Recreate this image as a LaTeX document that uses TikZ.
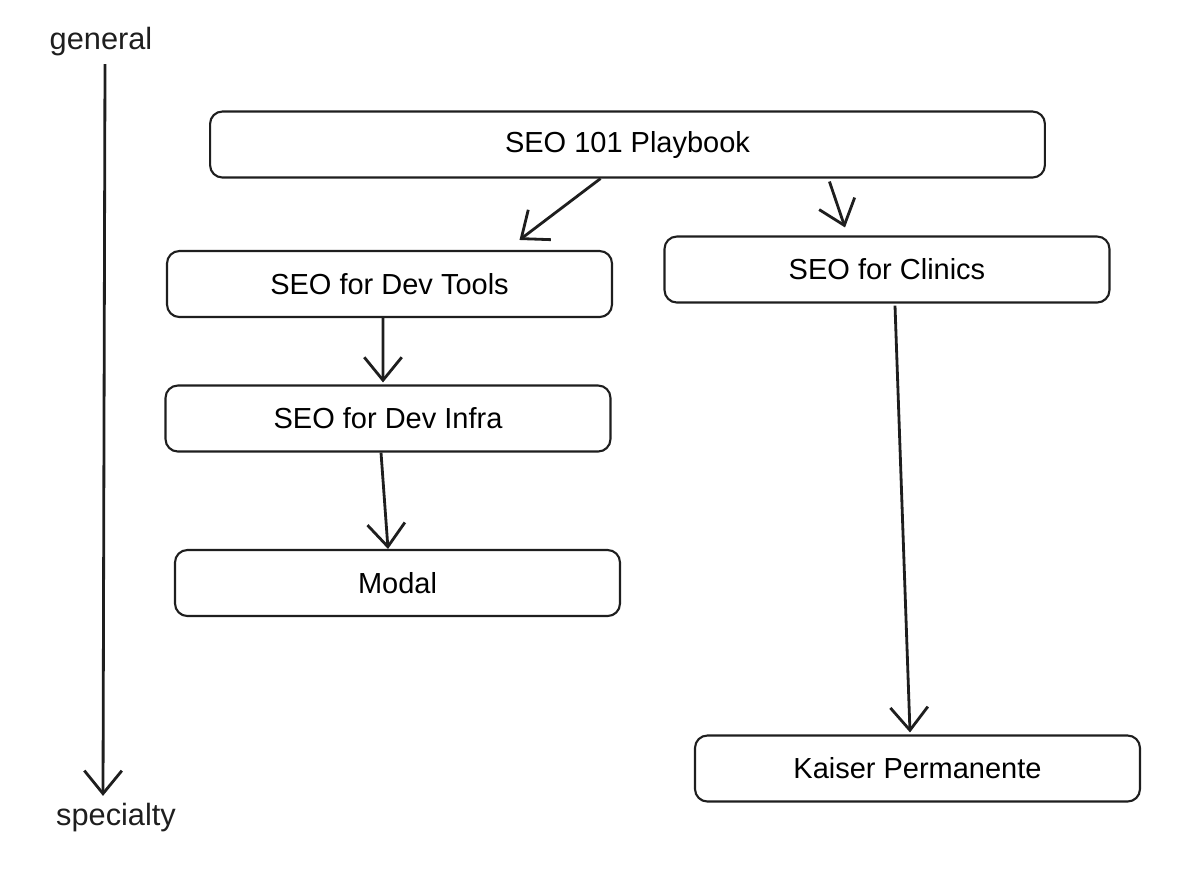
\documentclass[tikz,border=0pt]{standalone}
\usepackage{fontspec}
\setmainfont{Liberation Sans}
\usetikzlibrary{arrows.meta, positioning}
\definecolor{cink}{HTML}{1E1E1E}
\tikzset{
  every picture/.style={font=\fontsize{16.5}{19}\selectfont, line width=1.2pt},
  box/.style={draw=cink, fill=white, rounded corners=7pt, align=center, minimum width=8.9cm, minimum height=1.32cm, inner sep=0pt},
  arrow/.style={-{Straight Barb[length=4.6mm, width=7.5mm]}, draw=cink, line width=1.6pt},
  label/.style={text=cink, inner sep=1pt, font=\fontsize{17.5}{20}\selectfont},
}

\begin{document}
\begin{tikzpicture}[x=0.02cm, y=-0.02cm]
  \useasboundingbox (0,0) rectangle (1200,894);
  % axis
  \node[label] (gen) at (101,42) {general};
  \node[label] (spec) at (116,818) {specialty};
  \draw[arrow] ([xshift=0.08cm, yshift=-0.1cm]gen.south) -- ([xshift=-0.26cm, yshift=0.1cm]spec.north);
  % boxes
  \node[box, minimum width=16.7cm] (play) at (627.5,144.5) {SEO 101 Playbook};
  \node[box] (tools) at (389.5,284) {SEO for Dev Tools};
  \node[box] (clinics) at (887,269.5) {SEO for Clinics};
  \node[box] (infra) at (388,418.5) {SEO for Dev Infra};
  \node[box] (modal) at (397.5,583) {Modal};
  \node[box] (kaiser) at (917.5,768.5) {Kaiser Permanente};
  % connectors
  \draw[arrow] ([xshift=-0.54cm]play.south) -- ([xshift=2.6cm, yshift=0.2cm]tools.north);
  \draw[arrow] ([xshift=4.04cm, yshift=-0.06cm]play.south) -- ([xshift=-0.84cm, yshift=0.16cm]clinics.north);
  \draw[arrow] ([xshift=-0.13cm]tools.south) -- ([xshift=-0.1cm, yshift=0.04cm]infra.north);
  \draw[arrow] ([xshift=-0.14cm]infra.south) -- ([xshift=-0.19cm]modal.north);
  \draw[arrow] ([xshift=0.16cm, yshift=-0.04cm]clinics.south) -- ([xshift=-0.15cm, yshift=0.04cm]kaiser.north);
\end{tikzpicture}
\end{document}
